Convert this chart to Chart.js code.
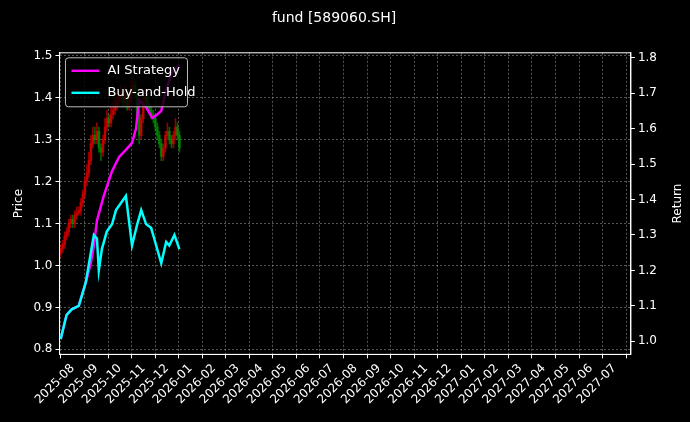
<!DOCTYPE html>
<html>
<head>
<meta charset="UTF-8">
<script src="https://cdn.jsdelivr.net/npm/chart.js"></script>
<style>
  html, body { margin: 0; background: #000; overflow: hidden; }
</style>
</head>
<body>
<canvas id="chart" width="690" height="422"></canvas>
<script>
// x positions are in months counted from 2025-08-01
const monthLabels = ['2025-08','2025-09','2025-10','2025-11','2025-12','2026-01','2026-02','2026-03','2026-04','2026-05','2026-06','2026-07',
  '2026-08','2026-09','2026-10','2026-11','2026-12','2027-01','2027-02','2027-03','2027-04','2027-05','2027-06','2027-07'];

const candleStart = -0.51, candleStep = 0.0855;
const closes = [1.04,1.05,1.07,1.08,1.10,1.11,1.10,1.12,1.125,1.13,1.15,1.17,1.20,1.22,1.25,1.29,1.31,1.30,1.32,1.28,
  1.27,1.30,1.33,1.35,1.34,1.36,1.37,1.38,1.39,1.40,1.41,1.39,1.41,1.38,1.40,1.42,1.43,1.41,1.36,1.31,
  1.35,1.39,1.40,1.38,1.37,1.36,1.35,1.33,1.31,1.29,1.26,1.28,1.31,1.32,1.30,1.29,1.31,1.33,1.31,1.28];
const opens = [1.03,1.04,1.05,1.07,1.08,1.10,1.11,1.10,1.12,1.125,1.13,1.15,1.17,1.20,1.22,1.25,1.29,1.31,1.30,1.32,
  1.28,1.27,1.30,1.33,1.35,1.34,1.36,1.37,1.38,1.39,1.40,1.41,1.39,1.41,1.38,1.40,1.42,1.43,1.41,1.36,
  1.31,1.35,1.39,1.40,1.38,1.37,1.36,1.35,1.33,1.31,1.29,1.26,1.28,1.31,1.32,1.30,1.29,1.31,1.33,1.31];
const highs = [1.05,1.06,1.08,1.09,1.11,1.12,1.12,1.13,1.14,1.14,1.16,1.18,1.21,1.24,1.27,1.31,1.33,1.33,1.34,1.33,
  1.29,1.31,1.35,1.37,1.36,1.38,1.39,1.40,1.41,1.42,1.43,1.42,1.43,1.42,1.41,1.44,1.45,1.44,1.42,1.37,
  1.36,1.40,1.42,1.41,1.39,1.38,1.37,1.36,1.34,1.32,1.30,1.29,1.32,1.34,1.33,1.31,1.32,1.35,1.34,1.32];
const lows = [1.02,1.03,1.04,1.06,1.07,1.09,1.09,1.09,1.11,1.12,1.12,1.14,1.16,1.19,1.21,1.24,1.28,1.29,1.29,1.27,
  1.25,1.26,1.29,1.32,1.33,1.33,1.35,1.36,1.37,1.38,1.39,1.38,1.38,1.37,1.37,1.39,1.41,1.40,1.35,1.29,
  1.30,1.34,1.38,1.37,1.36,1.35,1.34,1.32,1.30,1.28,1.25,1.25,1.27,1.30,1.29,1.28,1.28,1.30,1.30,1.27];

const holdT = [-0.51,-0.26,-0.04,0.26,0.56,0.77,0.90,1.03,1.11,1.24,1.45,1.67,1.84,2.05,2.26,2.39,2.52,2.74,2.91,3.12,3.33,3.46,3.76,3.97,4.10,4.32,4.53];
const holdReturn = [1.006,1.074,1.09,1.10,1.167,1.25,1.30,1.29,1.20,1.26,1.31,1.33,1.37,1.39,1.41,1.34,1.27,1.33,1.37,1.33,1.32,1.29,1.22,1.28,1.27,1.30,1.26];
const aiT = [-0.51,-0.26,-0.04,0.26,0.56,0.77,0.90,1.03,1.32,1.67,1.97,2.26,2.52,2.69,2.82,3.12,3.38,3.59,3.76,3.97,4.23,4.53];
const aiReturn = [1.006,1.074,1.09,1.10,1.167,1.22,1.27,1.34,1.41,1.48,1.52,1.54,1.56,1.60,1.68,1.66,1.63,1.64,1.65,1.71,1.76,1.78];

const up = 'rgba(230,0,0,0.65)', down = 'rgba(0,150,0,0.65)';
const candleColors = closes.map((c, i) => c >= opens[i] ? up : down);
const bodies = closes.map((c, i) => ({x: candleStart + i * candleStep, y: [opens[i], c === opens[i] ? c + 0.002 : c]}));
const wicks = closes.map((c, i) => ({x: candleStart + i * candleStep, y: [lows[i], highs[i]]}));

const legendBox = {
  id: 'legendBox',
  afterDatasetsDraw(chart) {
    const ctx = chart.ctx, a = chart.chartArea;
    // solid frame around the plot
    ctx.save();
    ctx.strokeStyle = '#fff'; ctx.lineWidth = 1;
    ctx.strokeRect(a.left, a.top, a.right - a.left, a.bottom - a.top);
    const x = a.left + 6, y = a.top + 5, w = 122, h = 49;
    ctx.fillStyle = 'rgba(0,0,0,0.8)';
    ctx.strokeStyle = '#bbb';
    ctx.beginPath();
    ctx.roundRect(x, y, w, h, 3);
    ctx.fill(); ctx.stroke();
    const items = [['AI Strategy', '#ff00ff'], ['Buy-and-Hold', '#00ffff']];
    ctx.font = '13px "DejaVu Sans"';
    ctx.textBaseline = 'middle';
    items.forEach((it, i) => {
      const ly = y + 13 + i * 22;
      ctx.strokeStyle = it[1]; ctx.lineWidth = 2.4;
      ctx.beginPath(); ctx.moveTo(x + 6, ly); ctx.lineTo(x + 34, ly); ctx.stroke();
      ctx.fillStyle = '#fff';
      ctx.fillText(it[0], x + 42, ly);
    });
    // right axis title, reading bottom to top
    ctx.translate(a.right + 47, (a.top + a.bottom) / 2);
    ctx.rotate(-Math.PI / 2);
    ctx.font = '12px "DejaVu Sans"';
    ctx.textAlign = 'center';
    ctx.fillText('Return', 0, 0);
    ctx.restore();
  }
};

const grid = {color: 'rgba(170,170,170,0.5)', tickColor: '#fff', tickLength: 4};
const dashed = {color: '#fff', dash: [2, 2]};
const tickFont = {family: 'DejaVu Sans', size: 12};

new Chart(document.getElementById('chart'), {
  type: 'bar',
  data: {
    datasets: [
      {type: 'line', label: 'AI Strategy', data: aiT.map((t, i) => ({x: t, y: aiReturn[i]})), yAxisID: 'y1',
       borderColor: '#ff00ff', borderWidth: 2.5, pointRadius: 0, order: 1},
      {type: 'line', label: 'Buy-and-Hold', data: holdT.map((t, i) => ({x: t, y: holdReturn[i]})), yAxisID: 'y1',
       borderColor: '#00ffff', borderWidth: 2.5, pointRadius: 0, order: 0},
      {label: 'wick', data: wicks, yAxisID: 'y', backgroundColor: candleColors, barThickness: 1, grouped: false, order: 3},
      {label: 'body', data: bodies, yAxisID: 'y', backgroundColor: candleColors, barThickness: 2, grouped: false, order: 2}
    ]
  },
  plugins: [legendBox],
  options: {
    responsive: false,
    animation: false,
    layout: {padding: {left: 8, right: 30, top: 4, bottom: 12}},
    plugins: {
      legend: {display: false},
      tooltip: {enabled: false},
      title: {display: true, text: 'fund [589060.SH]', color: '#fff', font: {family: 'DejaVu Sans', size: 14, weight: 'normal'}, padding: {top: 6, bottom: 26}}
    },
    scales: {
      x: {
        type: 'linear', min: -0.56, max: 23.7, offset: false,
        afterBuildTicks: s => { s.ticks = monthLabels.map((_, i) => ({value: i})); },
        ticks: {color: '#fff', font: tickFont, maxRotation: 45, minRotation: 45, autoSkip: false,
                callback: v => monthLabels[v]},
        grid: grid,
        border: dashed
      },
      y: {
        position: 'left', min: 0.788, max: 1.507,
        afterBuildTicks: s => { s.ticks = [0.8,0.9,1.0,1.1,1.2,1.3,1.4,1.5].map(v => ({value: v})); },
        ticks: {color: '#fff', font: tickFont, callback: v => v.toFixed(1)},
        grid: grid,
        border: dashed,
        title: {display: true, text: 'Price', color: '#fff', font: {family: 'DejaVu Sans', size: 12}}
      },
      y1: {
        position: 'right', min: 0.963, max: 1.814,
        afterBuildTicks: s => { s.ticks = [1.0,1.1,1.2,1.3,1.4,1.5,1.6,1.7,1.8].map(v => ({value: v})); },
        ticks: {color: '#fff', font: tickFont, callback: v => v.toFixed(1)},
        grid: {drawOnChartArea: false, tickColor: '#fff', tickLength: 4},
        border: {color: '#fff'}
      }
    }
  }
});
</script>
</body>
</html>
